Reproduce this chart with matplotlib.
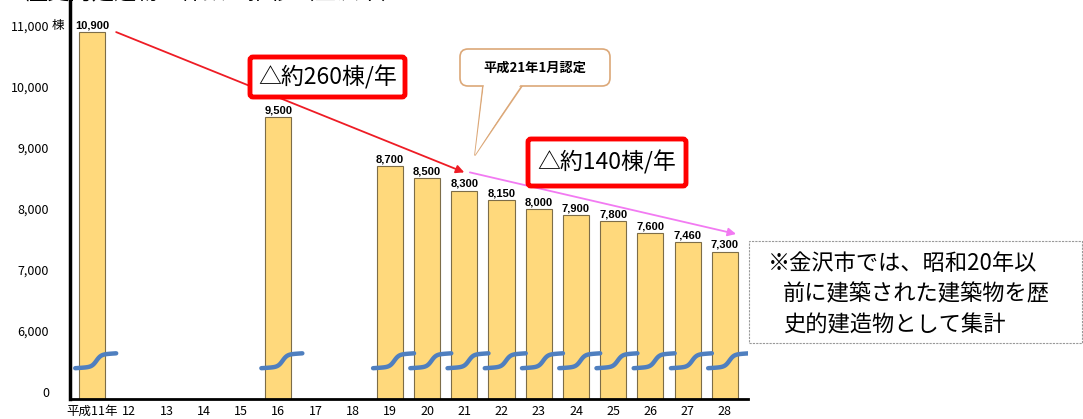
import numpy as np
import matplotlib.pyplot as plt
from matplotlib.patches import FancyBboxPatch, Rectangle, Polygon
from matplotlib.transforms import Affine2D, IdentityTransform, blended_transform_factory

plt.rcParams['font.family'] = ['Noto Sans CJK JP', 'DejaVu Sans']

# 横軸の年（平成）
years = ['平成11年', '12', '13', '14', '15', '16', '17', '18', '19',
         '20', '21', '22', '23', '24', '25', '26', '27', '28']
# 調査のある年と歴史的建造物の棟数
bar_years = ['平成11年', '16', '19', '20', '21', '22', '23', '24', '25', '26', '27', '28']
counts = [10900, 9500, 8700, 8500, 8300, 8150, 8000, 7900, 7800, 7600, 7460, 7300]
# 縦軸の目盛り（0 と 6,000 の間は省略）
ytick_values = [0, 6000, 7000, 8000, 9000, 10000, 11000]

W, H = 1083, 419


def squash(v):
    # 6,000 未満を詰めた縦軸
    return v - 5000 if v >= 6000 else v * 1000 / 6000


def box(x0, y0, x1, y1, **kw):
    # 上からのピクセル座標で囲みを作る
    return FancyBboxPatch((x0, H - y1), x1 - x0, y1 - y0,
                          transform=IdentityTransform(), **kw)


fig = plt.figure(figsize=(W / 100, H / 100), dpi=100)
# 上からのピクセル座標
px = Affine2D().scale(1, -1).translate(0, H) + IdentityTransform()

ax = fig.add_axes([70 / W, 20 / H, 678 / W, 399 / H])
ax.set_xlim(-0.59, 17.62)
ax.set_ylim(-115, 6426)

xs = [years.index(y) for y in bar_years]
base = -115
ax.bar(xs, [squash(c) - base for c in counts], bottom=base, width=0.7,
       color='#ffd97c', edgecolor='#7d6d48', linewidth=0.8, zorder=2)

for xi, c in zip(xs, counts):
    ax.text(xi, squash(c) + 30, f'{c:,}', ha='center', va='bottom',
            fontsize=8, fontweight='bold', family=['Liberation Sans'], zorder=4)
    # 省略を示す波線
    t = np.linspace(-0.45, 0.65, 60)
    wave = 390 + 40 * (t + 0.45) + 200 * (np.tanh((t - 0.12) * 8) + 1) / 2
    ax.plot(xi + t, wave, color='#4f7fbf', lw=3.2, solid_capstyle='round', zorder=3)

# 傾向の矢印
ax.annotate('', xy=(10, squash(8300) + 300), xytext=(0.65, squash(10900)),
            arrowprops=dict(arrowstyle='-|>', color='#ee1c25', lw=1.3,
                            mutation_scale=12, shrinkA=0, shrinkB=0), zorder=5)
ax.annotate('', xy=(17.3, squash(7300) + 290), xytext=(10.15, squash(8300) + 300),
            arrowprops=dict(arrowstyle='-|>', color='#f27af2', lw=1.3,
                            mutation_scale=12, shrinkA=0, shrinkB=0), zorder=5)

ax.set_yticks([squash(v) for v in ytick_values])
ax.set_yticklabels([f'{v:,}' for v in ytick_values])
ax.set_xticks(range(len(years)))
ax.set_xticklabels(years)
ax.tick_params(axis='y', length=0, pad=15, labelsize=9)
ax.tick_params(axis='x', length=0, pad=4, labelsize=9)
for s in ['top', 'right']:
    ax.spines[s].set_visible(False)
ax.spines['left'].set_linewidth(2.5)
ax.spines['bottom'].set_linewidth(2)
ax.text(-0.0177, squash(11000), '棟', fontsize=9, ha='center', va='center',
        transform=blended_transform_factory(ax.transAxes, ax.transData))

# 上端で切れたタイトル
fig.text(25 / W, 1 - 3 / H, '歴史的建造物の件数の推移（金沢市）', fontsize=16, va='bottom')

# 減少幅の囲み
for (x0, y0, x1, y1), label in [((250, 57, 405, 97), '△約260棟/年'),
                                ((528, 139, 686, 186), '△約140棟/年')]:
    fig.patches.append(box(x0, y0, x1, y1, boxstyle='round,pad=0,rounding_size=3',
                           facecolor='white', edgecolor='#ff0000',
                           linewidth=3.5, zorder=6))
    fig.text((x0 + x1) / 2 / W, 1 - (y0 + y1) / 2 / H, label, fontsize=16.5,
             ha='center', va='center', zorder=7)

# 認定時期の吹き出し
tan = '#dca878'
fig.patches.append(box(460, 49, 610, 86, boxstyle='round,pad=0,rounding_size=8',
                       facecolor='white', edgecolor=tan, linewidth=1.2, zorder=6))
fig.patches.append(Polygon([(484, 84), (475, 155), (521, 84)], closed=True,
                           transform=px, facecolor='white', edgecolor='none', zorder=6))
fig.lines.append(plt.Line2D([483, 475, 522], [86, 155, 86], transform=px,
                            color=tan, lw=1.2, zorder=6))
fig.text(535 / W, 1 - 68 / H, '平成21年1月認定', fontsize=9.5, fontweight='bold',
         ha='center', va='center', zorder=7)

# 注記
fig.patches.append(Rectangle((749, H - 343), 333, 102, transform=IdentityTransform(),
                             fill=False, edgecolor='#999999', linewidth=0.8,
                             linestyle=(0, (2, 1)), zorder=6))
note = ['※金沢市では、昭和20年以', '前に建築された建築物を歴', '史的建造物として集計']
for i, line in enumerate(note):
    fig.text((768 if i == 0 else 783) / W, 1 - (263 + 31 * i) / H, line,
             fontsize=16, ha='left', va='center', zorder=7)

fig.savefig('out.png', dpi=100)
